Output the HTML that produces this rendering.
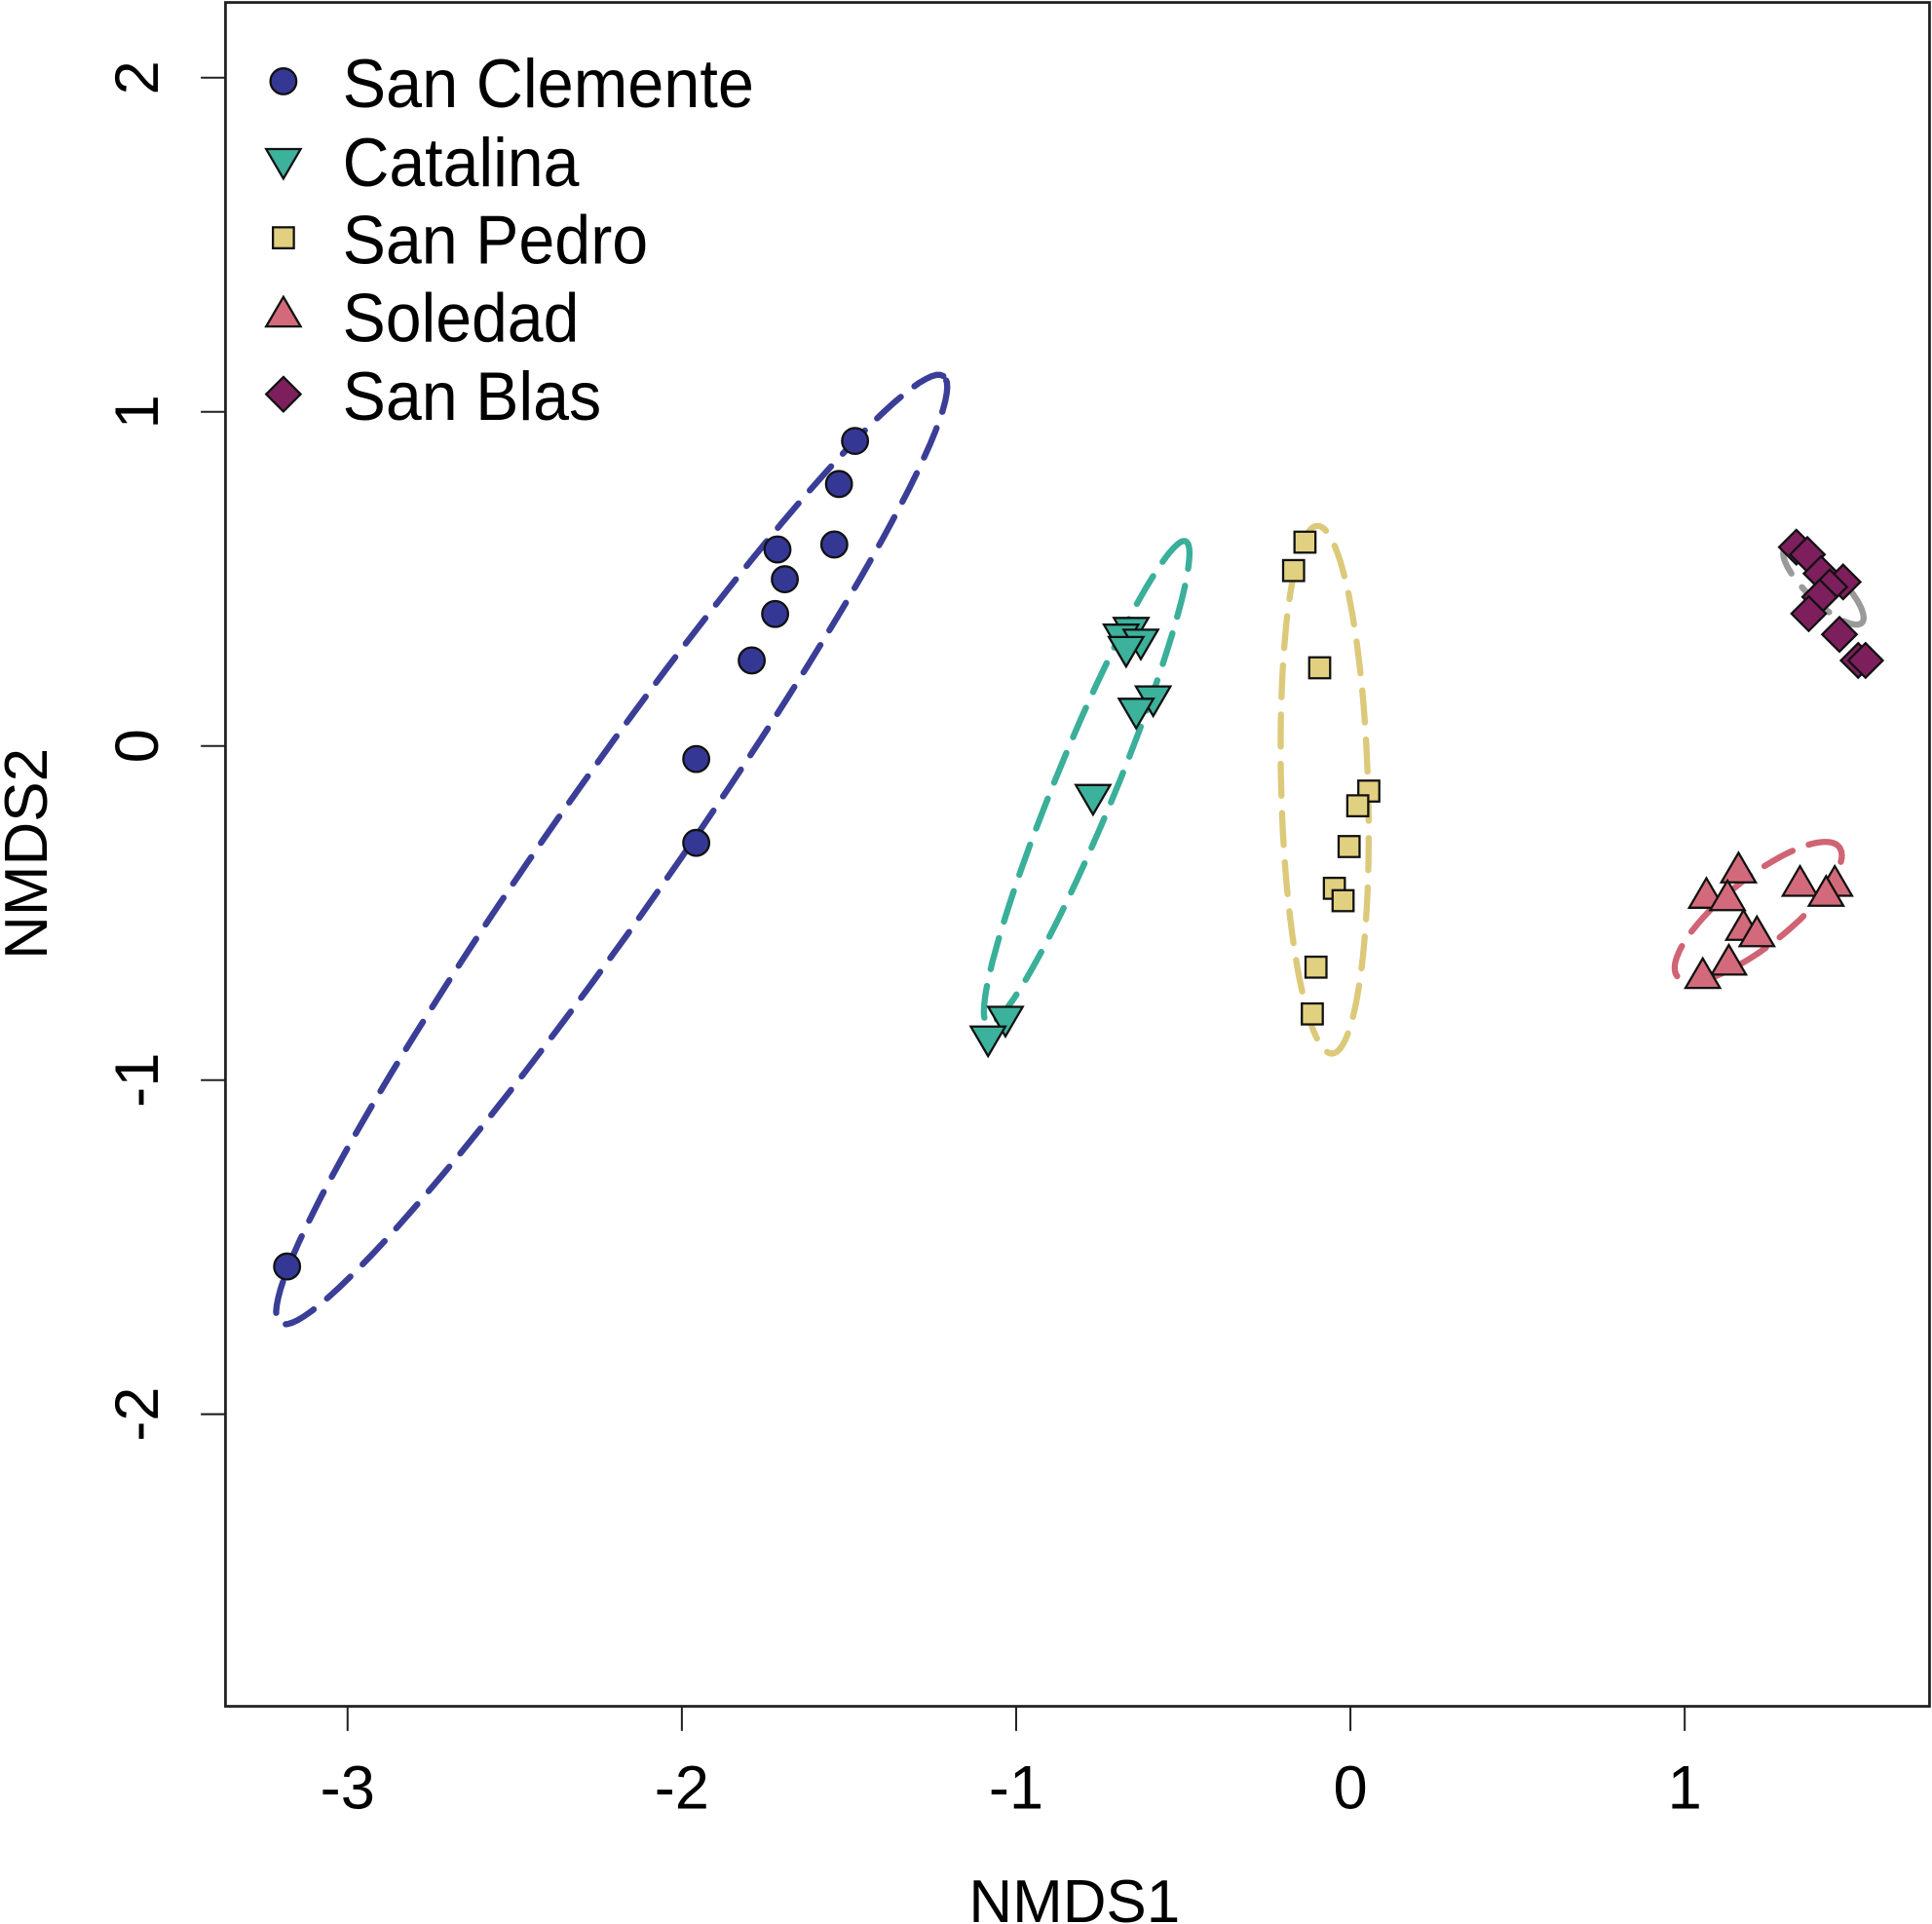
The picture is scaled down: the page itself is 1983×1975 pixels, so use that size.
<!DOCTYPE html>
<html><head><meta charset="utf-8"><style>
html,body{margin:0;padding:0;background:#fff}
svg{display:block}
text{font-family:"Liberation Sans",Arial,sans-serif;fill:#000}
</style></head><body>
<svg id="chart" width="1983" height="1975" viewBox="0 0 1568 1561.7" xmlns="http://www.w3.org/2000/svg">
<g id="ellipses"></g>
<g id="points"></g>
<g id="axes"></g>
<g id="legend"></g>
</svg>
<script>
const xTicks = [-3, -2, -1, 0, 1];
const yTicks = [2, 1, 0, -1, -2];
const groups = ["San Clemente", "Catalina", "San Pedro", "Soledad", "San Blas"];
const sanClementeX = [-1.482, -1.530, -1.544, -1.714, -1.692, -1.721, -1.791, -1.957, -1.957, -3.181];
const sanClementeY = [0.913, 0.784, 0.603, 0.588, 0.499, 0.395, 0.256, -0.039, -0.290, -1.558];
const catalinaX = [-0.656, -0.686, -0.627, -0.671, -0.590, -0.641, -0.770, -1.032, -1.084];
const catalinaY = [0.350, 0.330, 0.315, 0.293, 0.145, 0.108, -0.150, -0.814, -0.873];
const sanPedroX = [-0.136, -0.170, -0.092, 0.055, 0.022, -0.004, -0.048, -0.022, -0.103, -0.114];
const sanPedroY = [0.610, 0.525, 0.234, -0.135, -0.179, -0.301, -0.426, -0.463, -0.662, -0.802];
const soledadX = [1.161, 1.065, 1.128, 1.345, 1.449, 1.423, 1.176, 1.216, 1.132, 1.054];
const soledadY = [-0.375, -0.451, -0.458, -0.415, -0.415, -0.445, -0.547, -0.566, -0.651, -0.691];
const sanBlasX = [1.334, 1.367, 1.408, 1.474, 1.434, 1.404, 1.371, 1.463, 1.519, 1.541];
const sanBlasY = [0.595, 0.573, 0.516, 0.491, 0.476, 0.446, 0.396, 0.334, 0.256, 0.256];
// ellipse params: centerX, centerY, semi-major, semi-minor, angle(deg)
const ellCX = [-2.21, -0.789, -0.077, 1.22, 1.415];
const ellCY = [-0.31, -0.109, -0.131, -0.496, 0.48];
const ellA = [1.73, 0.78, 0.79, 0.31, 0.16];
const ellB = [0.185, 0.09, 0.13, 0.10, 0.05];
const ellAng = [55, 67.7, 91.6, 38.7, -44];

const NS = "http://www.w3.org/2000/svg";
const X0 = 1096, UX = 271.3, Y0 = 605.5, UY = 271.2;
const sx = v => X0 + v * UX;
const sy = v => Y0 - v * UY;
function mk(tag, attrs, parent) {
  const e = document.createElementNS(NS, tag);
  for (const k in attrs) e.setAttribute(k, attrs[k]);
  parent.appendChild(e);
  return e;
}
const fills = ["#343894", "#3cb19b", "#e1d07f", "#d36a7b", "#7c1f5c"];
const ellCols = ["#3a3e97", "#3aaf99", "#dcc97a", "#cf6474", "#9a9a9a"];
const shapes = ["circle", "down", "square", "up", "diamond"];

function marker(shape, cx, cy, fill, parent) {
  let e;
  const sw = 1.8;
  if (shape === "circle") e = mk("circle", {cx, cy, r: 10.5, fill, stroke: "#111", "stroke-width": sw}, parent);
  else if (shape === "square") e = mk("rect", {x: cx - 8.5, y: cy - 8.5, width: 17, height: 17, fill, stroke: "#111", "stroke-width": sw}, parent);
  else if (shape === "down") e = mk("polygon", {points: `${cx-14},${cy-9} ${cx+14},${cy-9} ${cx},${cy+15}`, fill, stroke: "#111", "stroke-width": sw}, parent);
  else if (shape === "up") e = mk("polygon", {points: `${cx-14},${cy+9} ${cx+14},${cy+9} ${cx},${cy-15}`, fill, stroke: "#111", "stroke-width": sw}, parent);
  else e = mk("polygon", {points: `${cx},${cy-14} ${cx+14},${cy} ${cx},${cy+14} ${cx-14},${cy}`, fill, stroke: "#111", "stroke-width": sw}, parent);
  return e;
}

// ellipses
const eg = document.getElementById("ellipses");
for (let i = 0; i < groups.length; i++) {
  const t = ellAng[i] * Math.PI / 180;
  let d = "";
  for (let k = 0; k <= 120; k++) {
    const th = k / 120 * 2 * Math.PI;
    const ex = ellA[i] * Math.cos(th), ey = ellB[i] * Math.sin(th);
    const dx = ellCX[i] + ex * Math.cos(t) - ey * Math.sin(t);
    const dy = ellCY[i] + ex * Math.sin(t) + ey * Math.cos(t);
    d += (k ? "L" : "M") + sx(dx).toFixed(1) + "," + sy(dy).toFixed(1);
  }
  const p = mk("path", {d, fill: "none", stroke: ellCols[i], "stroke-width": 5, "stroke-dasharray": i === 4 ? "30 14" : "26 14", "stroke-linecap": "round"}, eg);
  
  
}

// points
const pg = document.getElementById("points");
const xs = [sanClementeX, catalinaX, sanPedroX, soledadX, sanBlasX];
const ys = [sanClementeY, catalinaY, sanPedroY, soledadY, sanBlasY];
for (let i = 0; i < groups.length; i++) {
  for (let j = 0; j < xs[i].length; j++) {
    const m = marker(shapes[i], sx(xs[i][j]), sy(ys[i][j]), fills[i], pg);
    
    
  }
}

// axes
const ag = document.getElementById("axes");
const box = mk("rect", {x: 183, y: 2, width: 1383, height: 1383, fill: "none", stroke: "#222", "stroke-width": 2.2}, ag);


xTicks.forEach(v => {
  const l = mk("line", {x1: sx(v), x2: sx(v), y1: 1385, y2: 1405, stroke: "#222", "stroke-width": 1.6}, ag);
  
  
  const t = mk("text", {x: sx(v), y: 1468, "text-anchor": "middle", "font-size": 50}, ag);
  t.textContent = v;
  
  
});
yTicks.forEach(v => {
  const l = mk("line", {x1: 163, x2: 183, y1: sy(v), y2: sy(v), stroke: "#222", "stroke-width": 1.6}, ag);
  
  
  const t = mk("text", {x: 0, y: 0, "text-anchor": "middle", "font-size": 50, transform: `translate(128,${sy(v)}) rotate(-90)`}, ag);
  t.textContent = v;
  
  
});
const xt = mk("text", {x: 872, y: 1560, "text-anchor": "middle", "font-size": 49}, ag);
xt.textContent = "NMDS1";


const yt = mk("text", {x: 0, y: 0, "text-anchor": "middle", "font-size": 49, transform: "translate(38,693) rotate(-90)"}, ag);
yt.textContent = "NMDS2";



// legend
const lg = document.getElementById("legend");
const rowY = [66, 130, 193, 256, 320];
const lens = [334, 192, 248, 192, 210];
for (let i = 0; i < groups.length; i++) {
  const m = marker(shapes[i], 230, rowY[i], fills[i], lg);
  
  
  const t = mk("text", {x: 278, y: rowY[i] + 21, "font-size": 56, textLength: lens[i], lengthAdjust: "spacingAndGlyphs"}, lg);
  t.textContent = groups[i];
  
  
}
</script>
</body></html>
